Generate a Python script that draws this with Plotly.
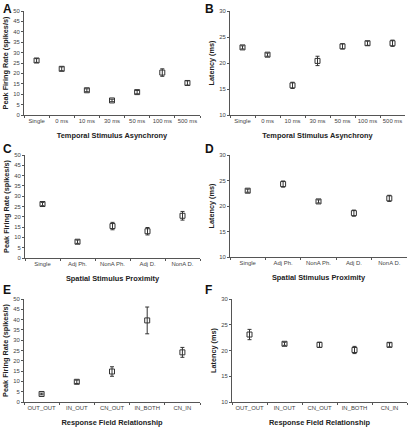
import plotly.graph_objects as go

# ---- data ----
temporal_cats = ["Single", "0 ms", "10 ms", "30 ms", "50 ms", "100 ms", "500 ms"]
A_rate = [26.2, 22.2, 11.9, 7.0, 11.0, 20.4, 15.4]
A_err = [0.9, 0.9, 0.7, 0.6, 0.8, 1.8, 1.0]
B_lat = [23.0, 21.6, 15.7, 20.4, 23.2, 23.8, 23.8]
B_err = [0.3, 0.3, 0.6, 0.9, 0.5, 0.4, 0.6]

spatial_cats = ["Single", "Adj Ph.", "NonA Ph.", "Adj D.", "NonA D."]
C_rate = [26.2, 7.9, 15.5, 13.0, 20.5]
C_err = [0.8, 0.8, 1.8, 1.8, 2.1]
D_lat = [23.0, 24.3, 20.9, 18.6, 21.5]
D_err = [0.3, 0.6, 0.3, 0.6, 0.6]

rf_cats = ["OUT_OUT", "IN_OUT", "CN_OUT", "IN_BOTH", "CN_IN"]
E_rate = [3.9, 9.8, 14.8, 39.6, 24.1]
E_err = [0.4, 0.8, 2.3, 6.5, 2.4]
F_lat = [23.1, 21.3, 21.1, 20.1, 21.1]
F_err = [1.0, 0.3, 0.5, 0.7, 0.4]

panels = [
    dict(cats=temporal_cats, y=A_rate, e=A_err, letter="A", ytitle="Peak Firing Rate (spikes/s)",
         xtitle="Temporal Stimulus Asynchrony", yr=[0, 50], dt=5, xd=[24, 200], yd=[11, 115], lp=(1, 0)),
    dict(cats=temporal_cats, y=B_lat, e=B_err, letter="B", ytitle="Latency (ms)",
         xtitle="Temporal Stimulus Asynchrony", yr=[10, 30], dt=5, xd=[230, 405], yd=[11, 115], lp=(203, 0)),
    dict(cats=spatial_cats, y=C_rate, e=C_err, letter="C", ytitle="Peak Firing Rate (spikes/s)",
         xtitle="Spatial Stimulus Proximity", yr=[0, 50], dt=5, xd=[25, 200], yd=[155, 258], lp=(1, 140)),
    dict(cats=spatial_cats, y=D_lat, e=D_err, letter="D", ytitle="Latency (ms)",
         xtitle="Spatial Stimulus Proximity", yr=[10, 30], dt=5, xd=[230, 407], yd=[155, 257], lp=(203, 140)),
    dict(cats=rf_cats, y=E_rate, e=E_err, letter="E", ytitle="Peak Firing Rate (spikes/s)",
         xtitle="Response Field Relationship", yr=[0, 50], dt=5, xd=[24, 200], yd=[299, 402], lp=(1, 281)),
    dict(cats=rf_cats, y=F_lat, e=F_err, letter="F", ytitle="Latency (ms)",
         xtitle="Response Field Relationship", yr=[10, 30], dt=5, xd=[232, 407], yd=[299, 402], lp=(203, 281)),
]

W, H = 409, 427
fig = go.Figure()
layout = dict(width=W, height=H, margin=dict(l=0, r=0, t=0, b=0),
              paper_bgcolor="white", plot_bgcolor="white", showlegend=False,
              font=dict(family="Liberation Sans, Arial, sans-serif", color="#333"))
annotations = []
for i, p in enumerate(panels):
    n = i + 1
    xa = "x" if n == 1 else f"x{n}"
    ya = "y" if n == 1 else f"y{n}"
    fig.add_trace(go.Scatter(
        x=p["cats"], y=p["y"], xaxis=xa, yaxis=ya, mode="markers",
        marker=dict(symbol="square-open", size=5, color="#333", line=dict(width=1, color="#333")),
        error_y=dict(type="data", array=p["e"], visible=True, color="#333", thickness=1, width=2),
        cliponaxis=False,
    ))
    xdom = [p["xd"][0] / W, p["xd"][1] / W]
    ydom = [1 - p["yd"][1] / H, 1 - p["yd"][0] / H]
    layout["xaxis" if n == 1 else f"xaxis{n}"] = dict(
        domain=xdom, anchor=ya, type="category", range=[-0.5, len(p["cats"]) - 0.5],
        showline=True, linecolor="#555", linewidth=1, showgrid=False, zeroline=False,
        ticks="outside", ticklen=2, tickcolor="#555", tickson="boundaries",
        tickangle=0, automargin=False,
        tickfont=dict(size=5.9, color="#444"),
        title=dict(text=f"<b>{p['xtitle']}</b>", font=dict(size=7.4, color="#222"), standoff=9),
    )
    layout["yaxis" if n == 1 else f"yaxis{n}"] = dict(
        domain=ydom, anchor=xa, range=p["yr"], dtick=p["dt"],
        showline=True, linecolor="#555", linewidth=1, showgrid=False, zeroline=False,
        ticks="outside", ticklen=2, tickcolor="#555", automargin=False,
        tickfont=dict(size=5.9, color="#444"),
        title=dict(text=f"<b>{p['ytitle']}</b>", font=dict(size=7.3, color="#222"), standoff=3),
    )
    annotations.append(dict(text=f"<b>{p['letter']}</b>", xref="paper", yref="paper",
                            x=p["lp"][0] / W, y=1 - p["lp"][1] / H,
                            xanchor="left", yanchor="top", showarrow=False,
                            font=dict(size=12, color="#111")))
layout["annotations"] = annotations
fig.update_layout(**layout)
fig.write_html("out.html", config={"displayModeBar": False},
               post_script="document.body.style.margin='0px';document.body.style.padding='0px';")
